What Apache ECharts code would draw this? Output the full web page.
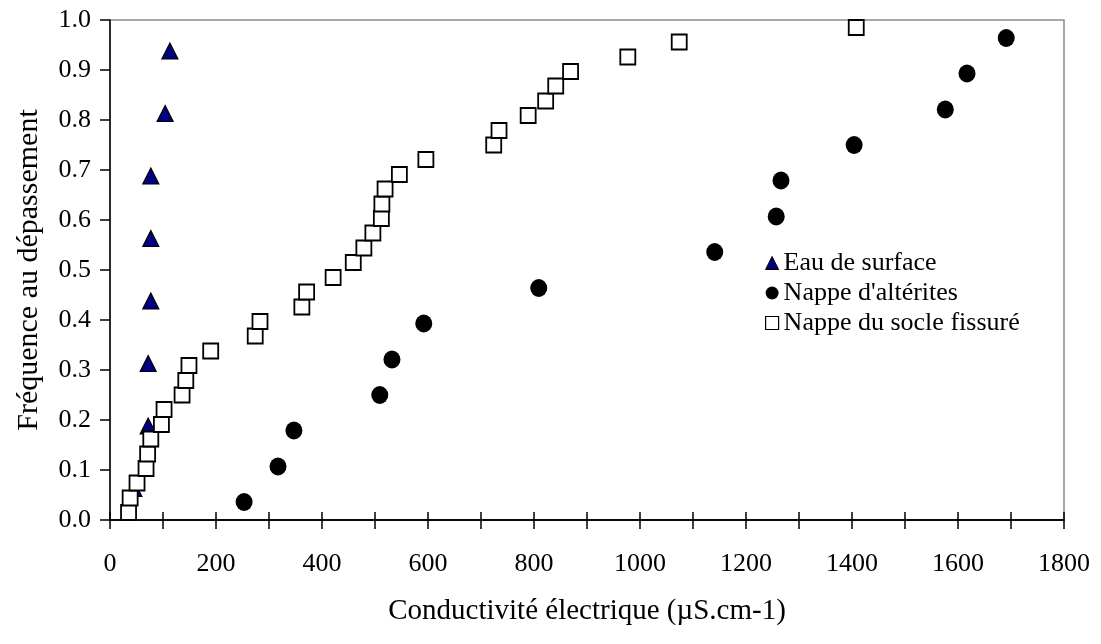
<!DOCTYPE html>
<html>
<head>
<meta charset="utf-8">
<script src="https://cdn.jsdelivr.net/npm/echarts@6/dist/echarts.min.js"></script>
<style>
html,body{margin:0;padding:0;background:#fff;}
#chart{width:1101px;height:644px;}
</style>
</head>
<body>
<div id="chart"></div>
<script>
// Eau de surface
const surfaceX = [113, 104, 77, 77, 77, 72, 72, 45];
const surfaceY = [0.938, 0.813, 0.688, 0.563, 0.438, 0.313, 0.188, 0.063];
// Nappe d'altérites
const alteritesX = [253, 317, 347, 509, 532, 592, 809, 1141, 1257, 1266, 1404, 1576, 1617, 1691];
const alteritesY = [0.036, 0.107, 0.179, 0.25, 0.321, 0.393, 0.464, 0.536, 0.607, 0.679, 0.75, 0.821, 0.893, 0.964];
// Nappe du socle fissuré
const socleX = [35, 38, 51, 68, 71, 77, 97, 102, 136, 143, 149, 190, 274, 283, 362, 371, 421, 459, 479, 496, 512, 513, 519, 546, 596, 724, 734, 789, 822, 841, 869, 977, 1074, 1408];
const socleY = [0.015, 0.044, 0.074, 0.103, 0.132, 0.162, 0.191, 0.221, 0.25, 0.279, 0.309, 0.338, 0.368, 0.397, 0.426, 0.456, 0.485, 0.515, 0.544, 0.574, 0.603, 0.632, 0.662, 0.691, 0.721, 0.75, 0.779, 0.809, 0.838, 0.868, 0.897, 0.926, 0.956, 0.985];

const seriesNames = ["Eau de surface", "Nappe d'altérites", "Nappe du socle fissuré"];
const xTitle = "Conductivité électrique (µS.cm-1)";
const yTitle = "Fréquence au dépassement";

function pairs(xs, ys) { return xs.map((x, i) => [x, ys[i]]); }

const FONT = "'Liberation Serif', 'Times New Roman', serif";
const chart = echarts.init(document.getElementById('chart'), null, {renderer: 'canvas'});

const xCommon = {
  type: 'value', min: 0, max: 1800, interval: 100, position: 'bottom',
  splitLine: {show: false},
  axisLine: {show: true, onZero: false, lineStyle: {color: '#000', width: 1.5}},
};

chart.setOption({
  animation: false,
  backgroundColor: '#fff',
  grid: {left: 110, top: 20, right: 37, bottom: 124, show: true, borderColor: '#8a8a8a', borderWidth: 1.5,
    backgroundColor: 'transparent', containLabel: false, outerBoundsMode: 'none'},
  legend: {
    orient: 'vertical', left: 760, top: 245, itemGap: 4, itemWidth: 13, itemHeight: 13,
    textStyle: {fontFamily: FONT, fontSize: 26, color: '#000'},
    data: [
      {name: seriesNames[0], icon: 'triangle', itemStyle: {color: '#000080', borderColor: '#000', borderWidth: 1}},
      {name: seriesNames[1], icon: 'circle', itemStyle: {color: '#000', borderColor: '#000', borderWidth: 0}},
      {name: seriesNames[2], icon: 'rect', itemStyle: {color: '#fff', borderColor: '#000', borderWidth: 1.2}}
    ]
  },
  xAxis: [
    Object.assign({}, xCommon, {
      name: xTitle, nameLocation: 'middle', nameGap: 77,
      nameTextStyle: {fontFamily: FONT, fontSize: 29, color: '#000'},
      axisTick: {show: true, inside: false, length: 9, lineStyle: {color: '#000', width: 1.5}},
      axisLabel: {fontFamily: FONT, fontSize: 26, color: '#000', margin: 31,
        formatter: v => (v % 200 === 0 ? String(v) : '')}
    }),
    Object.assign({}, xCommon, {
      axisTick: {show: true, inside: true, length: 8, lineStyle: {color: '#000', width: 1.5}},
      axisLabel: {show: false}
    })
  ],
  yAxis: {
    type: 'value', min: 0, max: 1, interval: 0.1,
    name: yTitle, nameLocation: 'middle', nameGap: 66,
    nameTextStyle: {fontFamily: FONT, fontSize: 30, color: '#000'},
    splitLine: {show: false},
    axisLine: {show: true, lineStyle: {color: '#000', width: 1.5}},
    axisTick: {show: true, inside: false, length: 10, lineStyle: {color: '#000', width: 1.5}},
    axisLabel: {fontFamily: FONT, fontSize: 26, color: '#000', margin: 19, formatter: v => v.toFixed(1)}
  },
  series: [
    {name: seriesNames[0], type: 'scatter', xAxisIndex: 0, symbol: 'triangle', symbolSize: [16, 16], clip: false,
      itemStyle: {color: '#000080', borderColor: '#000', borderWidth: 1.2, opacity: 1}, data: pairs(surfaceX, surfaceY), z: 2},
    {name: seriesNames[1], type: 'scatter', xAxisIndex: 0, symbol: 'circle', symbolSize: [17, 18], clip: false,
      itemStyle: {color: '#000', opacity: 1}, data: pairs(alteritesX, alteritesY), z: 3},
    {name: seriesNames[2], type: 'scatter', xAxisIndex: 0, symbol: 'rect', symbolSize: 15, clip: false,
      itemStyle: {color: '#fff', borderColor: '#000', borderWidth: 1.8, opacity: 1}, data: pairs(socleX, socleY), z: 4}
  ]
});
</script>
</body>
</html>
